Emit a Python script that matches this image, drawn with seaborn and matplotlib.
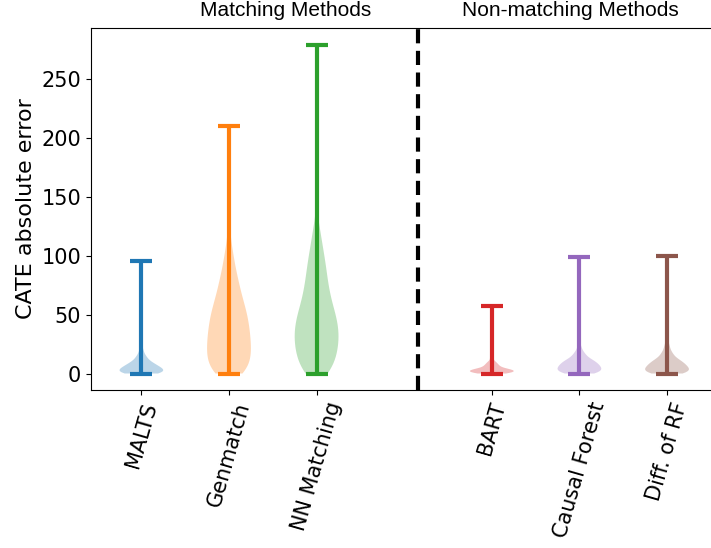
import numpy as np
import pandas as pd
import matplotlib
matplotlib.use("Agg")
import matplotlib.pyplot as plt
import seaborn as sns

# -- methods and their CATE absolute errors (value / how often)
methods = ["MALTS", "Genmatch", "NN Matching", "BART", "Causal Forest", "Diff. of RF"]

malts_vals = [0, 2, 4, 6, 8, 10, 13, 16, 20, 25, 32, 45, 65, 95]
malts_cnts = [34, 36, 30, 24, 19, 15, 13, 8, 6, 3, 2, 1, 1, 1]

genmatch_vals = [0, 10, 20, 30, 40, 50, 60, 70, 80, 90, 100, 110, 120, 130, 150, 175, 210]
genmatch_cnts = [24, 33, 34, 33, 31, 28, 23, 18, 14, 10, 7, 4, 2, 1, 1, 1, 1]

nn_vals = [0, 10, 20, 30, 40, 50, 60, 70, 80, 90, 100, 110, 120, 130, 145, 170, 200, 240, 279]
nn_cnts = [20, 29, 33, 35, 34, 30, 24, 20, 17, 15, 12, 9, 6, 3, 1, 1, 1, 1, 1]

bart_vals = [0, 1, 2, 3, 4, 6, 8, 10, 13, 17, 22, 30, 40, 57]
bart_cnts = [30, 36, 38, 36, 32, 26, 19, 13, 8, 4, 2, 1, 1, 1]

cf_vals = [0, 2, 4, 6, 8, 10, 12, 15, 18, 22, 27, 35, 50, 70, 99]
cf_cnts = [27, 31, 30, 28, 25, 22, 19, 14, 10, 6, 3, 2, 1, 1, 1]

rf_vals = [0, 2, 4, 6, 8, 10, 12, 15, 18, 22, 26, 31, 40, 55, 75, 100]
rf_cnts = [30, 33, 30, 27, 24, 21, 18, 14, 11, 8, 5, 3, 2, 1, 1, 1]

group_titles = ["Matching Methods", "Non-matching Methods"]

# -- layout
positions = [0, 1, 2, 4, 5, 6]
colors = sns.color_palette("tab10", 6)

samples = [
    np.repeat(malts_vals, malts_cnts),
    np.repeat(genmatch_vals, genmatch_cnts),
    np.repeat(nn_vals, nn_cnts),
    np.repeat(bart_vals, bart_cnts),
    np.repeat(cf_vals, cf_cnts),
    np.repeat(rf_vals, rf_cnts),
]

df = pd.concat(
    [pd.DataFrame({"method": m, "pos": p, "err": s}) for m, p, s in zip(methods, positions, samples)],
    ignore_index=True,
)

fig = plt.figure(figsize=(7.11, 5.48), dpi=100)
ax = fig.add_axes([0.128, 0.2883, 0.881, 0.6606])

sns.violinplot(data=df, x="pos", y="err", hue="method", hue_order=methods, palette=colors,
               native_scale=True, cut=0, inner=None, density_norm="width", width=0.5,
               bw_adjust=0.7, saturation=1, linewidth=0, legend=False, ax=ax)
for coll in ax.collections:
    coll.set_alpha(0.3)
    coll.set_edgecolor("none")

# -- extrema bars like plt.violinplot
for p, s, c in zip(positions, samples, colors):
    ax.vlines(p, s.min(), s.max(), color=c, lw=3, zorder=3)
    ax.hlines([s.min(), s.max()], p - 0.125, p + 0.125, color=c, lw=3, zorder=3)

ax.axvline(3.16, color="black", lw=3, ls=(0, (3.4, 1.8)), zorder=4, clip_on=False)

ax.set_xlim(-0.575, 6.575)
ax.set_ylim(-14, 293)
ax.set_xticks(positions)
ax.set_xticklabels(methods, rotation=74, fontsize=15)
ax.set_yticks([0, 50, 100, 150, 200, 250])
ax.tick_params(axis="y", labelsize=15)
ax.set_xlabel("")
ax.set_ylabel("CATE absolute error", fontsize=16)

ax.text(1.65, 1.033, group_titles[0], transform=ax.get_xaxis_transform(), ha="center",
        va="baseline", fontsize=15, family="Liberation Sans")
ax.text(4.9, 1.033, group_titles[1], transform=ax.get_xaxis_transform(), ha="center",
        va="baseline", fontsize=15, family="Liberation Sans")

fig.savefig("out.png", dpi=100)
